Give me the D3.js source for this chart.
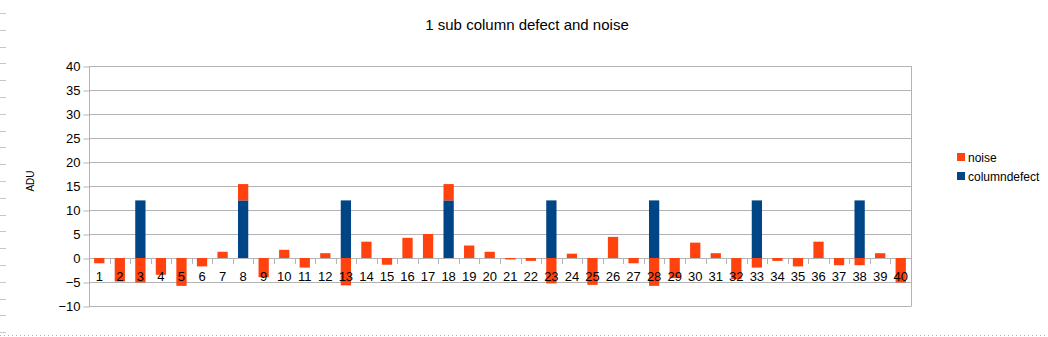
<!DOCTYPE html>
<html>
<head>
<meta charset="utf-8">
<script src="https://cdn.jsdelivr.net/npm/d3@7"></script>
<style>
  html, body { margin: 0; padding: 0; background: #fff; }
  svg { display: block; font-family: "Liberation Sans", Arial, sans-serif; }
</style>
</head>
<body>
<svg id="chart" width="1048" height="337"></svg>
<script>
// Column labels along the zero line
const categories = ["1","2","3","4","5","6","7","8","9","10",
  "11","12","13","14","15","16","17","18","19","20",
  "21","22","23","24","25","26","27","28","29","30",
  "31","32","33","34","35","36","37","38","39","40"];

// Random read noise per column (ADU)
const noise = [-1.1, -4.9, -5.1, -3.5, -5.8, -1.75, 1.3, 3.4, -4.0, 1.7,
  -2.0, 1.0, -5.7, 3.4, -1.4, 4.2, 5.0, 3.4, 2.6, 1.3,
  -0.3, -0.6, -5.3, 0.9, -5.6, 4.4, -1.1, -5.8, -4.2, 3.2,
  1.0, -4.4, -2.0, -0.6, -1.75, 3.4, -1.5, -1.5, 1.0, -5.1];

// Offset of the defective sub-column (every fifth column)
const columndefect = [0, 0, 12, 0, 0, 0, 0, 12, 0, 0,
  0, 0, 12, 0, 0, 0, 0, 12, 0, 0,
  0, 0, 12, 0, 0, 0, 0, 12, 0, 0,
  0, 0, 12, 0, 0, 0, 0, 12, 0, 0];

const yTicks = [-10, -5, 0, 5, 10, 15, 20, 25, 30, 35, 40];

const seriesNames = ["noise", "columndefect"];
const colors = { noise: "#ff420e", columndefect: "#004586" };

const svg = d3.select("#chart");
const plot = { left: 89, right: 911, top: 66, bottom: 306 };

const x = d3.scaleBand()
  .domain(categories)
  .range([plot.left, plot.right])
  .paddingInner(0.5)
  .paddingOuter(0.25);

const y = d3.scaleLinear()
  .domain([-10, 40])
  .range([plot.bottom, plot.top]);

// faint ruler marks along the left edge and dotted strip at the bottom
const rulerMarks = d3.range(13, 335, 16.8);
svg.append("g").selectAll("line").data(rulerMarks).join("line")
  .attr("x1", 0).attr("x2", 6)
  .attr("y1", d => Math.round(d) + 0.5).attr("y2", d => Math.round(d) + 0.5)
  .attr("stroke", "#c8c8c8").attr("stroke-width", 1);
svg.append("line")
  .attr("x1", 0).attr("x2", 1048).attr("y1", 335.5).attr("y2", 335.5)
  .attr("stroke", "#b0b0b0").attr("stroke-dasharray", "1,3");

// title
svg.append("text")
  .attr("x", 527).attr("y", 30)
  .attr("text-anchor", "middle")
  .attr("font-size", 15)
  .attr("fill", "#000")
  .text("1 sub column defect and noise");

// horizontal grid
svg.append("g").selectAll("line").data(yTicks).join("line")
  .attr("x1", plot.left).attr("x2", plot.right)
  .attr("y1", d => Math.round(y(d)) + 0.5).attr("y2", d => Math.round(y(d)) + 0.5)
  .attr("stroke", "#b3b3b3").attr("stroke-width", 1);

// plot walls
svg.append("line")
  .attr("x1", plot.left + 0.5).attr("x2", plot.left + 0.5)
  .attr("y1", plot.top).attr("y2", plot.bottom)
  .attr("stroke", "#b3b3b3");
svg.append("line")
  .attr("x1", plot.right + 0.5).attr("x2", plot.right + 0.5)
  .attr("y1", plot.top).attr("y2", plot.bottom + 0.5)
  .attr("stroke", "#b3b3b3");

// y axis
const yAxis = d3.axisLeft(y).tickValues(yTicks).tickSize(6).tickPadding(3);
const yg = svg.append("g")
  .attr("transform", `translate(${plot.left + 0.5},0.5)`)
  .call(yAxis);
yg.select(".domain").remove();
yg.selectAll(".tick line").attr("stroke", "#b3b3b3");
yg.selectAll(".tick text")
  .attr("font-size", 13)
  .attr("font-family", "Liberation Sans, Arial, sans-serif")
  .attr("fill", "#000");

// axis title
svg.append("text")
  .attr("transform", "translate(34,181) rotate(-90)")
  .attr("text-anchor", "middle")
  .attr("font-size", 10)
  .attr("fill", "#000")
  .text("ADU");

// stacked bars, positive and negative stacking away from zero
const table = categories.map((c, i) => ({ cat: c, columndefect: columndefect[i], noise: noise[i] }));
const stacked = d3.stack()
  .keys(["columndefect", "noise"])
  .offset(d3.stackOffsetDiverging)(table);

svg.append("g").selectAll("g").data(stacked).join("g")
  .attr("fill", s => colors[s.key])
  .selectAll("rect")
  .data(s => s.filter(d => d[1] !== d[0]))
  .join("rect")
  .attr("x", d => x(d.data.cat))
  .attr("width", x.bandwidth())
  .attr("y", d => y(Math.max(d[0], d[1])))
  .attr("height", d => Math.abs(y(d[0]) - y(d[1])));

// category axis sitting on zero
const xAxis = d3.axisBottom(x).tickSize(0).tickPadding(0);
const xg = svg.append("g")
  .attr("transform", `translate(0,${Math.round(y(0)) + 0.5})`)
  .call(xAxis);
xg.select(".domain").remove();
xg.selectAll(".tick text")
  .attr("dy", null)
  .attr("y", 22)
  .attr("font-size", 13)
  .attr("font-family", "Liberation Sans, Arial, sans-serif")
  .attr("fill", "#000");

// small tick marks between columns
const bounds = categories.slice(1).map(c => x(c) - x.step() * x.paddingInner() / 2);
svg.append("g").selectAll("line").data(bounds).join("line")
  .attr("x1", d => Math.round(d) + 0.5).attr("x2", d => Math.round(d) + 0.5)
  .attr("y1", Math.round(y(0))).attr("y2", Math.round(y(0)) + 6)
  .attr("stroke", "#b3b3b3");

// legend
const legend = svg.append("g").attr("transform", "translate(957,151)");
const items = legend.selectAll("g").data(seriesNames).join("g")
  .attr("transform", (d, i) => `translate(0,${i * 19})`);
items.append("rect")
  .attr("width", 8).attr("height", 8).attr("y", 2)
  .attr("fill", d => colors[d]);
items.append("text")
  .attr("x", 11).attr("y", 10.5)
  .attr("font-size", 12)
  .attr("fill", "#000")
  .text(d => d);
</script>
</body>
</html>
